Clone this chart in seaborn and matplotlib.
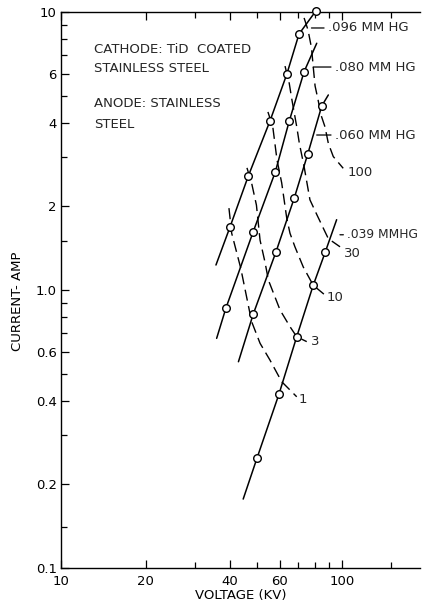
import numpy as np
import pandas as pd
import matplotlib
matplotlib.use("Agg")
import matplotlib.pyplot as plt
import seaborn as sns
from matplotlib.ticker import FixedLocator, FixedFormatter, NullFormatter

# ---------------- data ----------------
pressure_labels = [".096 MM HG", ".080 MM HG", ".060 MM HG", ".039 MMHG"]

# measured points (open circles): voltage kV, current A
kv_096 = [39.9, 46.4, 55.4, 63.6, 70.3, 80.8]
amp_096 = [1.68, 2.57, 4.05, 5.97, 8.33, 10.1]
kv_080 = [38.6, 48.3, 57.9, 64.9, 73.3]
amp_080 = [0.859, 1.62, 2.66, 4.05, 6.10]
kv_060 = [48.3, 58.2, 67.6, 75.5, 84.7]
amp_060 = [0.818, 1.37, 2.14, 3.08, 4.59]
kv_039 = [49.8, 59.7, 69.0, 79.0, 87.2]
amp_039 = [0.248, 0.423, 0.679, 1.04, 1.37]

# extent of each solid line (low end / high end)
line_lo_kv = [35.6, 35.8, 42.8, 44.5]
line_lo_amp = [1.23, 0.670, 0.552, 0.177]
line_hi_kv = [80.8, 81.3, 89.4, 95.7]
line_hi_amp = [10.1, 7.72, 5.03, 1.79]

# dashed iso-curves
dash_labels = ["1", "3", "10", "30", "100"]
dash1_kv = [39.6, 40.5, 43.6, 47.7, 51.1, 55.4, 61.0, 69.0]
dash1_amp = [1.97, 1.60, 1.20, 0.769, 0.643, 0.560, 0.468, 0.413]
dash3_kv = [45.9, 47.7, 49.6, 51.1, 53.2, 54.7, 60.2, 65.3, 69.0, 74.9]
dash3_amp = [2.75, 2.42, 2.02, 1.51, 1.26, 1.086, 0.847, 0.738, 0.679, 0.652]
dash10_kv = [54.5, 56.7, 58.7, 61.0, 63.6, 65.3, 68.0, 72.8, 79.0, 87.0]
dash10_amp = [4.37, 3.87, 2.94, 2.43, 1.81, 1.60, 1.43, 1.21, 1.04, 0.959]
dash30_kv = [62.7, 64.9, 66.2, 69.0, 70.5, 73.3, 76.9, 81.5, 87.0, 89.4, 98.4]
dash30_amp = [6.39, 5.54, 4.89, 3.87, 3.37, 2.78, 2.11, 1.86, 1.62, 1.53, 1.43]
dash100_kv = [73.3, 75.7, 77.9, 79.2, 80.2, 82.2, 84.2, 87.0, 89.4, 93.1, 101]
dash100_amp = [9.52, 8.61, 7.42, 6.18, 5.42, 4.83, 4.26, 3.86, 3.37, 3.02, 2.74]

# axis ticks
x_major = [10, 20, 40, 60, 100]
x_major_labels = ["10", "20", "40", "60", "100"]
x_minor = [30, 50, 70, 80, 90, 150]
y_major = [0.1, 0.2, 0.4, 0.6, 1.0, 2, 4, 6, 10]
y_major_labels = ["0.1", "0.2", "0.4", "0.6", "1.0", "2", "4", "6", "10"]
y_minor = [0.14, 0.3, 0.5, 0.7, 0.8, 0.9, 1.5, 3, 5, 7, 8, 9]

# ---------------- style ----------------
sns.set_theme(style="white")
plt.rcParams["font.family"] = ["DejaVu Sans"]
FS = 9.5
PX = 0.72  # points per pixel at dpi 100

fig = plt.figure(figsize=(4.22, 6.04), dpi=100)
ax = fig.add_axes([61 / 422, 1 - 568 / 604, 359 / 422, 556 / 604])
ax.set_xscale("log")
ax.set_yscale("log")

point_kv = [kv_096, kv_080, kv_060, kv_039]
point_amp = [amp_096, amp_080, amp_060, amp_039]

rows = []
for i, name in enumerate(pressure_labels):
    kvs = [line_lo_kv[i]] + point_kv[i] + [line_hi_kv[i]]
    amps = [line_lo_amp[i]] + point_amp[i] + [line_hi_amp[i]]
    for k, a in zip(kvs, amps):
        rows.append((name, k, a))
solid = pd.DataFrame(rows, columns=["curve", "kv", "amp"])

for name, g in solid.groupby("curve", sort=False):
    sns.lineplot(data=g, x="kv", y="amp", ax=ax, sort=False, estimator=None,
                 color="black", lw=1.1, zorder=2, clip_on=False)

dash_kv = [dash1_kv, dash3_kv, dash10_kv, dash30_kv, dash100_kv]
dash_amp = [dash1_amp, dash3_amp, dash10_amp, dash30_amp, dash100_amp]
drows = []
for lab, kvs, amps in zip(dash_labels, dash_kv, dash_amp):
    for k, a in zip(kvs, amps):
        drows.append((lab, k, a))
dashed = pd.DataFrame(drows, columns=["curve", "kv", "amp"])
for lab, g in dashed.groupby("curve", sort=False):
    sns.lineplot(data=g, x="kv", y="amp", ax=ax, sort=False, estimator=None,
                 color="black", lw=1.0, linestyle=(0, (8, 4)), zorder=2)

pts = pd.DataFrame({"kv": sum(point_kv, []), "amp": sum(point_amp, [])})
sns.scatterplot(data=pts, x="kv", y="amp", ax=ax, marker="o", s=30,
                color="white", edgecolor="black", linewidth=1.0, zorder=4,
                clip_on=False)

# pressure labels with leaders
label_amp = [8.76, 6.34, 3.61, 1.58]
label_dx_px = [24.6, 28.8, 21.7, 16.0]
leader_gap_px = [8, 7, 3.4, 8.6]
label_fs = [FS, FS, FS, 8.8]
for i, name in enumerate(pressure_labels):
    g = solid[solid["curve"] == name]
    lx = 10 ** np.interp(np.log10(label_amp[i]), np.log10(g["amp"].values),
                         np.log10(g["kv"].values))
    ax.annotate(name, xy=(lx, label_amp[i]), xytext=(label_dx_px[i] * PX, 0),
                textcoords="offset points", ha="left", va="center",
                fontsize=label_fs[i], annotation_clip=False,
                arrowprops=dict(arrowstyle="-", lw=0.9, color="black",
                                shrinkA=0.5, shrinkB=leader_gap_px[i] * PX))

# dashed-curve labels at their ends
dash_off_px = [(2.3, -2.3), (4.3, 0), (1.7, -2.7), (4.0, -6.3), (4.7, -3.7)]
for lab, kvs, amps, off in zip(dash_labels, dash_kv, dash_amp, dash_off_px):
    ax.annotate(lab, xy=(kvs[-1], amps[-1]), xytext=(off[0] * PX, off[1] * PX),
                textcoords="offset points", ha="left", va="center", fontsize=FS)

# description text
ax.text(0.092, 0.933, "CATHODE: TiD  COATED", transform=ax.transAxes,
        fontsize=FS, va="center", ha="left")
ax.text(0.092, 0.899, "STAINLESS STEEL", transform=ax.transAxes,
        fontsize=FS, va="center", ha="left")
ax.text(0.092, 0.836, "ANODE: STAINLESS", transform=ax.transAxes,
        fontsize=FS, va="center", ha="left")
ax.text(0.092, 0.797, "STEEL", transform=ax.transAxes,
        fontsize=FS, va="center", ha="left")

# axes
ax.set_xlim(10, 10 * 10 ** (359 / 281))
ax.set_ylim(0.1, 10)
ax.xaxis.set_major_locator(FixedLocator(x_major))
ax.xaxis.set_major_formatter(FixedFormatter(x_major_labels))
ax.xaxis.set_minor_locator(FixedLocator(x_minor))
ax.xaxis.set_minor_formatter(NullFormatter())
ax.yaxis.set_major_locator(FixedLocator(y_major))
ax.yaxis.set_major_formatter(FixedFormatter(y_major_labels))
ax.yaxis.set_minor_locator(FixedLocator(y_minor))
ax.yaxis.set_minor_formatter(NullFormatter())

ax.tick_params(which="both", direction="in", top=True, right=False,
               bottom=True, left=True, color="black", width=0.9,
               labelsize=FS, labelcolor="black")
ax.tick_params(which="major", length=6)
ax.tick_params(which="minor", length=4.5)
ax.tick_params(axis="y", pad=3)
ax.tick_params(axis="x", pad=5)

for side in ["left", "bottom", "top"]:
    ax.spines[side].set_visible(True)
    ax.spines[side].set_color("black")
    ax.spines[side].set_linewidth(1.0)
ax.spines["right"].set_visible(False)

ax.set_xlabel("VOLTAGE (KV)", fontsize=FS, color="black")
ax.set_ylabel("CURRENT- AMP", fontsize=FS, color="black")
ax.xaxis.set_label_coords(0.5, -0.05)
ax.xaxis.label.set_va("center")
ax.yaxis.set_label_coords(-0.12, 0.48)
ax.yaxis.label.set_va("center")
ax.grid(False)

fig.savefig("out.png", dpi=100, facecolor="white")
